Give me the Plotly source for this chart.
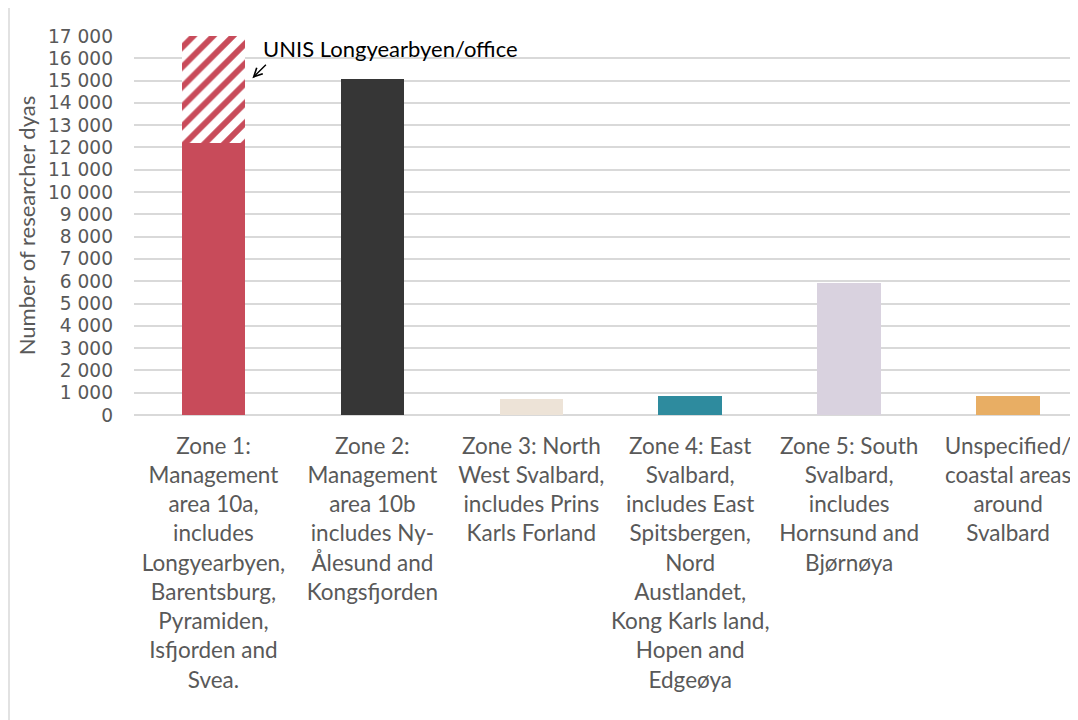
import plotly.graph_objects as go

categories = [
    "Zone 1:<br>Management<br>area 10a,<br>includes<br>Longyearbyen,<br>Barentsburg,<br>Pyramiden,<br>Isfjorden and<br>Svea.",
    "Zone 2:<br>Management<br>area 10b<br>includes Ny-<br>Ålesund and<br>Kongsfjorden",
    "Zone 3: North<br>West Svalbard,<br>includes Prins<br>Karls Forland",
    "Zone 4: East<br>Svalbard,<br>includes East<br>Spitsbergen,<br>Nord<br>Austlandet,<br>Kong Karls land,<br>Hopen and<br>Edgeøya",
    "Zone 5: South<br>Svalbard,<br>includes<br>Hornsund and<br>Bjørnøya",
    "Unspecified/<br>coastal areas<br>around<br>Svalbard",
]
field_days = [12200, 15070, 720, 850, 5920, 850]
unis_days = [4800, 0, 0, 0, 0, 0]
bar_colors = ["#C84B5A", "#363636", "#EDE3D7", "#2E8B9E", "#D9D2DF", "#E8AE64"]
y_ticks = list(range(0, 17001, 1000))
annotation_text = "UNIS Longyearbyen/office"
y_title = "Number of researcher dyas"

ML, MT, MB = 126, 28, 313
PW, PH = 944, 720 - MT - MB

fig = go.Figure()
fig.add_trace(go.Bar(
    x=categories, y=field_days, marker=dict(color=bar_colors, line=dict(width=0)),
    width=0.4, showlegend=False, hoverinfo="y",
))
fig.add_trace(go.Bar(
    x=categories, y=unis_days, width=0.4, showlegend=False, hoverinfo="y",
    marker=dict(color="white", line=dict(width=0),
                pattern=dict(shape="/", fgcolor="#C84B5A", bgcolor="white",
                             fgopacity=1, size=14, solidity=0.42, fillmode="replace")),
))

font_family = "Lato, 'Open Sans', sans-serif"
fig.update_layout(
    barmode="stack",
    width=1078, height=720,
    margin=dict(l=ML, r=1078 - ML - PW, t=MT, b=MB),
    paper_bgcolor="white", plot_bgcolor="white",
    separators=", ",
    font=dict(family=font_family, color="#595959"),
    xaxis=dict(
        type="category", range=[-0.5, 5.44], showgrid=False, showline=False,
        ticks="", tickfont=dict(size=22.5, color="#595959"), ticklabelstandoff=15,
        tickangle=0,
    ),
    yaxis=dict(
        range=[0, 17000], tickvals=y_ticks, tickformat=",d",
        showgrid=True, gridcolor="#D9D9D9", gridwidth=1.5,
        zeroline=True, zerolinecolor="#D9D9D9", zerolinewidth=1.5,
        showline=False, ticks="",
        tickfont=dict(size=18.6, color="#595959", family="'DejaVu Sans', sans-serif"),
        ticklabelstandoff=20,
        title=dict(text=y_title, font=dict(size=22, color="#595959"), standoff=6),
    ),
    annotations=[
        dict(x=0, y=17000, xref="x", yref="y", text=annotation_text,
             showarrow=False, xanchor="left", yanchor="middle",
             xshift=48, yshift=-12,
             font=dict(size=22, color="black", family=font_family)),
        dict(x=0.245, y=15110, xref="x", yref="y", text="",
             showarrow=True, ax=15, ay=-15, arrowhead=5, arrowsize=1.2,
             arrowwidth=1.4, arrowcolor="black"),
    ],
    shapes=[
        dict(type="line", xref="paper", yref="paper",
             x0=(1 - ML) / PW, x1=(1 - ML) / PW, y0=-MB / PH, y1=1 + MT / PH,
             line=dict(color="#D9D9D9", width=1.5)),
    ],
)

fig.write_html("out.html")
